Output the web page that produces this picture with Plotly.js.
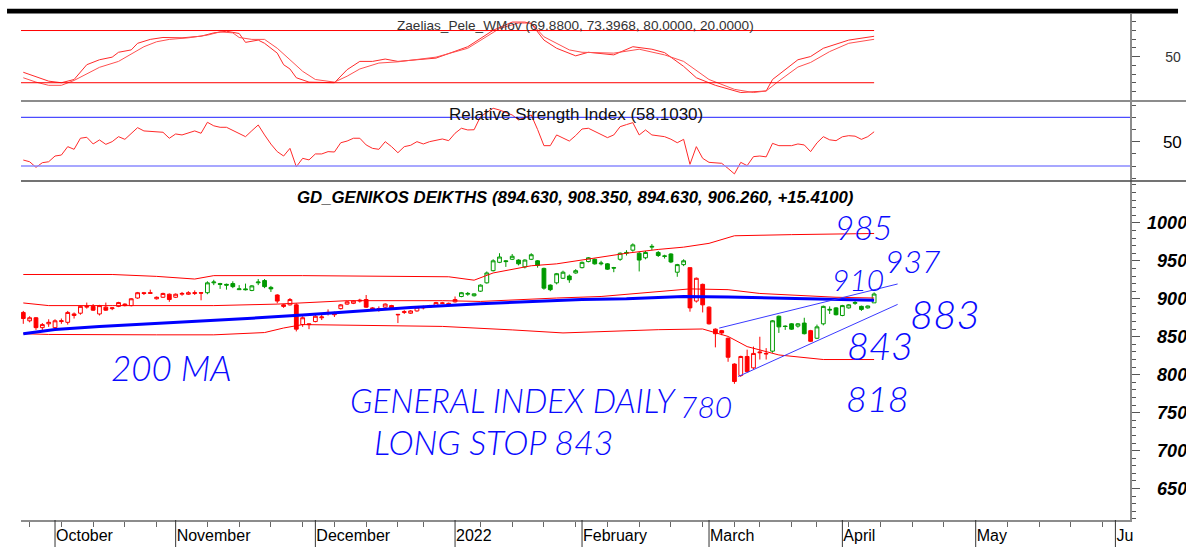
<!DOCTYPE html>
<html><head><meta charset="utf-8">
<script src="https://cdn.plot.ly/plotly-3.0.1.min.js"></script>
<style>html,body{margin:0;padding:0;background:#fff;}#chart{width:1186px;height:547px;}</style>
</head><body><div id="chart"></div>
<script>
// ---- daily candles (trading-day index 0 = first bar) ----
const open  = [882,871,875,862,867,862,870,869,878,881,889,890,880,889,887,890,891,891,901,908,907,900,902,906,902,906,906,907,908,908,921,920,919,920,912,913,911,921,924,915,905,892,892,892,866,867,870,875,881,879,887,893,894,897,899,888,887,889,891,879.5,882,881,884,888,889,891,894,892,896,903,906,904,910,921,937,948,950,952,951,942,952,950,940,918,921,927,930,934,941,949,952,946,946,941,952,960,964,960,954,968,961,956.5,959,935,945,941,897,919,889,860,858,848,814,799,824,809,830,828,831,877,864,867,864,868,858,848,867,885,888,878,888,894,890,888,894.63];
const high  = [884,877,876,868,873,873,874,884,882,891,895,893,892,895,889,896,894,901,909,909,912,903,908,907,907,909,910,911,908.5,923,925,921,920,923,918,920,918,926,926,917,906,893,901,894,877,867.5,879,879,886,883,893,897,898,900,905,889,890,894,892,880,885,885,890,891,892,896,896,895,903,909,909,907,919,936,952,960,951,959,952,952,960,951,941,919,934,937,932,939,949,955,953,950,947,942,961,964,973,962,963,972,963,958,960,946,952,941,928,920,890,861,859,849,815,825,833,837,850,835,872,878,865,868,868,875,859,866,891,890,889,892,893,897,891,891,908.35];
const low   = [867,869,859,859,863,858,867,866,874,879,887,884,878,884,885,889,890,890,900,905,907,899,901,896,901,904,905,905,898,906,918,913,912,914,912,911,910,918,914,909,894,888,891,857,863,860,869,872,878,876,886,892,893,895,888,884,883,888,887,868,880,880,883,886,888,890,893,891,895,902,904,903,909,920,936,947,942,951,944,940,951,941,912,910,919,926,921,933,940,948,945,944,938,935,950,957,962,936,952,964,955,953,947,929,943,883,895,882,866,836,852,817,788,797,803,807,820,820,829,855,859,859,862,853,843,847,865,880,878,877,887,892,884,887,894.63];
const close = [874,875,862,866,869,871,871,882,880,890,890,885,891,885,888,895,893,900,908,907,908,902,907,899,906,907,908,908,907.5,921,922,919,918,916,913,912,917,922,916,913,897,890,899,860,875,866,877,876,882,880,892,896,897,898,889,887,887,893,888,879,883,884,889,889,891,895,894.5,894,899,908,907,906.5,918,934,950,955,949,956,946,951,958,944,914,912,933,935,925,937,948,954,946,947,939,940.5,960,961,971,951,961,969,957,956,948.5,945,950,888,927,892,867,854,855,823,791,824,804,828,829,827.5,871,863,863.5,860,867,854,844,863,890,886,879,891,892,895,886,890.5,906.26];
// colour regime of the bars: run starts and colours
const regimeStart  = [0, 29, 40, 69, 105, 118, 124, 125];
const regimeColour = ['red','green','red','green','red','green','red','green'];

// ---- moving averages / bands (sampled vertices) ----
const maIdx  = [0,5,12,20,28,36,44,51,61,72,82,88,95,104,111,119,126,134];
const maVal  = [854,859.5,863.5,867,870.5,874.5,878.5,883,888.5,893.5,897.5,899,900,903,902.5,901,899.5,898];
const bbUpIdx = [0,14,21,27,30,44,67,71,74,80,84,95,100,104,108,112,121,134];
const bbUpVal = [932,932,929.5,926,930.5,930.5,929,924.5,934,943.5,946,960,965,968,973,983,984.5,986];
const bbMidIdx = [0,4,14,30,40,44,51,66,72,84,91,105,111,116,122,128,134];
const bbMidVal = [894.5,891,891,891,893,894.5,897.5,897.5,896.5,901,903,913,912,907,905,902,901];
const bbLoIdx = [0,4,21,30,38,41,44,59,66,77,85,100,107,111,114,119,126,134];
const bbLoVal = [854,853,852.5,852.5,855.5,861.5,866,865,863.6,859,855,859.3,860.2,850.4,837,826,820,820];
// hand-drawn trend channel
const chanUpIdx = [109.6, 137.7], chanUpVal = [861.4, 919.5];
const chanLoIdx = [112.6, 137.7], chanLoVal = [797.6, 892.6];

// ---- oscillator (Zaelias_Pele_WMov) ----
const fastIdx = [0,2,4,6,8,10,12,14,15,17,18,20,22,25,28,30,32,34,35,37,38,40,41,42,43,45,49,51,53,55,57,59,65,70,74,77,79,80,82,84,87,89,93,96,99,101,104,106,109,113,117,118,120,122,124,126,130,134];
const fastVal = [32,26.8,21.8,20,23.7,40.7,46.4,49.4,55,57.7,65.3,69.8,72,71.6,73.5,77.3,79.2,76.6,66.4,69,65.3,54,40.7,35.8,25.7,20.7,20,35,44.5,44.5,47.2,44.5,48.3,61.4,80.3,89.7,89.7,87.9,69,59.6,50.9,55,52,61.4,58.5,54.6,38.8,25.7,17,8.7,10.5,23.7,35,46.4,50.1,59.6,69,73.4];
const slowIdx = [0,2,4,6,8,10,12,15,17,19,21,23,26,29,31,33,34,36,38,40,42,44,46,49,51,53,56,59,65,70,75,78,80,82,86,88,93,97,101,104,108,112,115,117,119,122,124,127,130,134];
const slowVal = [25.7,20.7,17,17,22.6,30.5,37.7,44.5,52.8,61.4,67.1,69.8,71.6,74.7,78.4,77.3,72,69.8,69.8,59.6,46.4,33.1,23.7,20.7,27.5,35.8,42.6,44,49.4,59.6,82.3,88.6,88.6,72.8,57.7,55,54,58.5,52,44.5,23.7,12.4,8.7,10.5,22,38,43.3,55.8,65.3,69.9];
const oscLevels = [80, 20];

// ---- RSI (one value per bar) ----
const rsi = [34.9,33.5,28.9,32.7,33.5,38.2,39,45.9,43.7,52.8,53.6,48.1,51.4,47.8,50,54.1,51.9,56.3,61.5,58.8,58.5,58.2,57.7,52.8,56.3,55.5,57,58.8,56.9,65.9,63,61.8,61.8,59,56.5,54.1,59,63.7,55.5,48,41.8,38.2,44.5,29.4,36.3,35,39.9,39.9,41.8,41.5,49.1,50.5,52.8,52.8,47.3,44.5,43.7,50,45.9,40.9,45.9,47,50,48.1,50,51.4,52.2,50.8,56.9,61,59.6,59.8,70.5,74,77.4,76,74,71.9,67.8,70,71.9,60,46.7,46.7,55.5,53,50.5,55,60.4,61,58.2,56,53.3,55.5,62.3,64,65.6,55.5,59.6,55.5,55,54.1,52,49.1,51.9,31.4,45.9,36.3,33,32.5,32.2,28,23.5,33,30.3,37.7,38.2,37.5,48.6,46.7,47,46.7,48.1,47.3,41.8,49,54.1,51.5,50.8,54,54.9,54.5,51.9,54.1,58.1];
const rsiLevels = [70, 30];

// ---- axes ----
const monthIdx = [5, 24, 46, 68, 88, 108, 129, 150, 172];
const monthLabels = ['October','November','December','2022','February','March','April','May','Ju'];
const weekIdx = [1,6,11,16,21,29,34,39,44,49,54,59,63,72,77,82,87,92,97,102,107,112,116,121,125,130,135,140,145,155,160,165,170];
const priceTicks = [650,700,750,800,850,900,950,1000];

// ---- hand-written notes ----
const noteText = ['985','937','910','883','843','818','200 MA','GENERAL INDEX DAILY','780','LONG STOP 843'];
const noteIdx  = [132.4,140.1,131.4,145.1,135.0,134.5,23.3,51.1,107.6,54.9];
const noteVal  = [995.1,950.3,926.5,880.3,839.4,769.5,810.4,766.2,758.3,712.1];
const noteSize = [33,32,30,40,38,36,35,33,30,34];
const noteAnchor = ['center','center','center','center','center','center','center','left','center','left'];

// ===== build =====
const RED = '#ff0000', GREEN = '#009a00';
const colourOf = i => { let c = regimeColour[0]; for (let k=0;k<regimeStart.length;k++) if (i>=regimeStart[k]) c = regimeColour[k]; return c; };
function candles(colName, col){
  const ix=[],o=[],h=[],l=[],c=[];
  open.forEach((_,i)=>{ if(colourOf(i)===colName){ix.push(i);o.push(open[i]);h.push(high[i]);l.push(low[i]);c.push(close[i]);} });
  return {type:'candlestick', x:ix, open:o, high:h, low:l, close:c, xaxis:'x', yaxis:'y',
    whiskerwidth:0, hoverinfo:'skip',
    increasing:{line:{color:col,width:1}, fillcolor:'#ffffff'},
    decreasing:{line:{color:col,width:1}, fillcolor:col}};
}
const line = (x,y,ya,col,w) => ({type:'scatter',mode:'lines',x:x,y:y,xaxis:'x',yaxis:ya,line:{color:col,width:w},hoverinfo:'skip'});
const barIdx = rsi.map((_,i)=>i);

const traces = [
  candles('red', RED), candles('green', GREEN),
  line(bbUpIdx,bbUpVal,'y',RED,1), line(bbMidIdx,bbMidVal,'y',RED,1), line(bbLoIdx,bbLoVal,'y',RED,1),
  line(maIdx,maVal,'y','#0000ff',3),
  line(chanUpIdx,chanUpVal,'y','#3a3aff',1), line(chanLoIdx,chanLoVal,'y','#3a3aff',1),
  line(fastIdx,fastVal,'y3','#ff2a2a',1), line(slowIdx,slowVal,'y3','#ff5050',1),
  line(barIdx,rsi,'y2','#ff2a2a',1)
];

const shapes = [];
// top black bar
shapes.push({type:'rect',xref:'paper',yref:'paper',x0:-0.0126,x1:1.0433,y0:1.001,y1:1.0105,fillcolor:'#000',line:{width:0}});
// panel separators
shapes.push({type:'line',xref:'paper',yref:'paper',x0:0,x1:1.06,y0:0.8281,y1:0.8281,line:{color:'#8c8c8c',width:2}});
shapes.push({type:'line',xref:'paper',yref:'paper',x0:0,x1:1.06,y0:0.6700,y1:0.6700,line:{color:'#444',width:1.5}});
// oscillator levels
oscLevels.forEach(v=>shapes.push({type:'line',xref:'x',yref:'y3',x0:-0.36,x1:barIdx[barIdx.length-1],y0:v,y1:v,line:{color:RED,width:1}}));
// rsi levels
shapes.push({type:'line',xref:'paper',yref:'y2',x0:0,x1:1,y0:rsiLevels[0],y1:rsiLevels[0],line:{color:'#2020ff',width:1}});
shapes.push({type:'line',xref:'paper',yref:'y2',x0:0,x1:1,y0:rsiLevels[1],y1:rsiLevels[1],line:{color:'#8a8aff',width:1.6}});
// month separator lines below the time axis
monthIdx.forEach(m=>shapes.push({type:'line',xref:'x',yref:'paper',x0:m,x1:m,y0:0,y1:-0.06,line:{color:'#333',width:1}}));

const annotations = [];
const F = 'Liberation Sans, Arial, sans-serif';
annotations.push({xref:'paper',yref:'paper',x:0.5,y:0.9763,text:'Zaelias_Pele_WMov (69.8800, 73.3968, 80.0000, 20.0000)',showarrow:false,font:{family:F,size:13.6,color:'#333'},yanchor:'middle'});
annotations.push({xref:'paper',yref:'paper',x:0.5,y:0.8004,text:'Relative Strength Index (58.1030)',showarrow:false,font:{family:F,size:17,color:'#111'},yanchor:'middle'});
annotations.push({xref:'paper',yref:'paper',x:0.5,y:0.6374,text:'GD_GENIKOS DEIKTHS (894.630, 908.350, 894.630, 906.260, +15.4100)',showarrow:false,font:{family:F,size:16.8,color:'#000',weight:'bold',style:'italic'},yanchor:'middle'});
noteText.forEach((t,k)=>annotations.push({xref:'x',yref:'y',x:noteIdx[k],y:noteVal[k],text:t,showarrow:false,xanchor:noteAnchor[k],yanchor:'middle',
  font:{family:'Lato, Noto Sans, sans-serif',size:noteSize[k],color:'#0a0aff',weight:300,style:'italic'}}));

const axisCommon = {side:'right',anchor:'x',showgrid:false,zeroline:false,showline:true,linecolor:'#8c8c8c',linewidth:1.5,
  ticks:'outside',ticklen:8,tickcolor:'#555',tickwidth:1,fixedrange:true};
const FS = '\u2007';
const layout = {
  width:1186,height:547,margin:{l:21,r:56,t:14,b:27},
  paper_bgcolor:'#fff',plot_bgcolor:'#fff',showlegend:false,boxgap:0.15,
  font:{family:F,color:'#000'},
  xaxis:{range:[-0.36,174.3],showgrid:false,zeroline:false,showline:true,linecolor:'#8c8c8c',linewidth:2,
    tickmode:'array',tickvals:monthIdx,ticktext:monthLabels,ticks:'',ticklabelposition:'outside right',
    tickfont:{family:F,size:16,color:'#000'},rangeslider:{visible:false},fixedrange:true,
    minor:{tickmode:'array',tickvals:weekIdx,ticks:'outside',ticklen:5,tickcolor:'#666',tickwidth:1}},
  yaxis:Object.assign({},axisCommon,{domain:[0,0.669],range:[608.6,1054.5],tickmode:'array',tickvals:priceTicks,
    ticktext:priceTicks.map(v=>v<1000?FS+v:String(v)),ticklabelstandoff:4,
    tickfont:{family:F,size:18,color:'#000',weight:'bold',style:'italic'},
    minor:{tickmode:'linear',tick0:0,dtick:10,ticks:'outside',ticklen:4,tickcolor:'#555'}}),
  yaxis2:Object.assign({},axisCommon,{domain:[0.670,0.8281],range:[17.7,83.4],tickmode:'array',tickvals:[50],ticktext:['50'],
    ticklabelstandoff:20,tickfont:{family:F,size:17,color:'#000'},
    minor:{tickmode:'linear',tick0:0,dtick:10,ticks:'outside',ticklen:4,tickcolor:'#555'}}),
  yaxis3:Object.assign({},axisCommon,{domain:[0.8281,1],range:[-1,99],tickmode:'array',tickvals:[0,50],ticktext:['','50'],
    ticklabelstandoff:23,tickfont:{family:F,size:14,color:'#333'},
    minor:{tickmode:'linear',tick0:0,dtick:10,ticks:'outside',ticklen:4,tickcolor:'#555'}}),
  shapes:shapes,annotations:annotations
};
Plotly.newPlot('chart',traces,layout,{staticPlot:true,displayModeBar:false});
</script></body></html>
